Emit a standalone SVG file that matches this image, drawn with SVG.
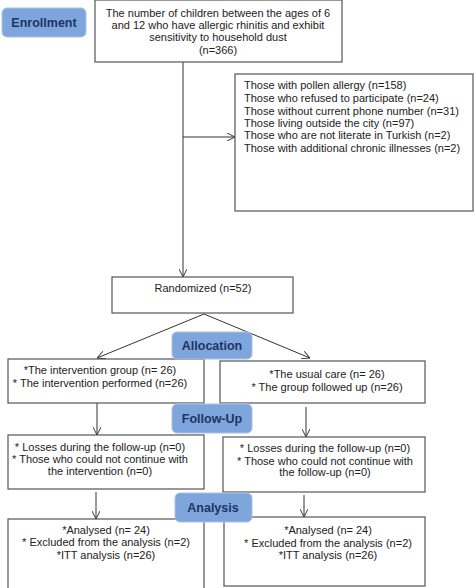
<svg xmlns="http://www.w3.org/2000/svg" width="474" height="588" viewBox="0 0 474 588">
<defs>
<marker id="arr" viewBox="0 0 10 10" refX="10" refY="5" markerWidth="8" markerHeight="8" markerUnits="userSpaceOnUse" orient="auto">
<path d="M0,0 L10,5 L0,10" fill="none" stroke="#333" stroke-width="1.2"/>
</marker>
</defs>
<style>
.box{fill:#fff;stroke:#555;stroke-width:1.2}
.pill{fill:#7fa6dc;stroke:#a9c2e6;stroke-width:1}
.t{font-family:"Liberation Sans",Arial,sans-serif;font-size:11px;fill:#222}
.c{text-anchor:middle}
.p{font-family:"Liberation Sans",Arial,sans-serif;font-size:12.5px;font-weight:bold;fill:#1d3466;text-anchor:middle}
.ln{stroke:#333;stroke-width:1;fill:none}
</style>
<rect width="474" height="588" fill="#fff"/>
<g id="connectors">
<line class="ln" x1="183" y1="62" x2="183" y2="277" marker-end="url(#arr)"/>
<line class="ln" x1="183" y1="137" x2="235" y2="137" marker-end="url(#arr)"/>
<line class="ln" x1="204" y1="314" x2="97" y2="358" marker-end="url(#arr)"/>
<line class="ln" x1="204" y1="314" x2="310" y2="358" marker-end="url(#arr)"/>
<line class="ln" x1="97" y1="403" x2="97" y2="435" marker-end="url(#arr)"/>
<line class="ln" x1="306" y1="407" x2="306" y2="437" marker-end="url(#arr)"/>
<line class="ln" x1="96" y1="492" x2="96" y2="519" marker-end="url(#arr)"/>
<line class="ln" x1="304" y1="495" x2="304" y2="517" marker-end="url(#arr)"/>
</g>
<g id="enrollment">
<rect class="pill" x="2" y="8" width="84" height="29" rx="5"/>
<text class="p" x="44" y="27">Enrollment</text>
</g>
<g id="total">
<rect class="box" x="95" y="0" width="247" height="62"/>
<text class="t c" x="218" y="17">The number of children between the ages of 6</text>
<text class="t c" x="218" y="29">and 12 who have allergic rhinitis and exhibit</text>
<text class="t c" x="218" y="41">sensitivity to household dust</text>
<text class="t c" x="218" y="54">(n=366)</text>
</g>
<g id="excluded">
<rect class="box" x="235" y="74" width="238" height="137"/>
<text class="t" x="244" y="89">Those with pollen allergy (n=158)</text>
<text class="t" x="244" y="102">Those who refused to participate (n=24)</text>
<text class="t" x="244" y="115">Those without current phone number (n=31)</text>
<text class="t" x="244" y="127">Those living outside the city (n=97)</text>
<text class="t" x="244" y="139">Those who are not literate in Turkish (n=2)</text>
<text class="t" x="244" y="152">Those with additional chronic illnesses (n=2)</text>
</g>
<g id="randomized">
<rect class="box" x="112" y="277" width="181" height="36"/>
<text class="t c" x="203" y="292">Randomized (n=52)</text>
</g>
<g id="alloc-left">
<rect class="box" x="8" y="359" width="196" height="44"/>
<text class="t c" x="100" y="374">*The intervention group (n= 26)</text>
<text class="t c" x="100" y="387">* The intervention performed (n=26)</text>
</g>
<g id="alloc-right">
<rect class="box" x="220" y="361" width="205" height="42"/>
<text class="t c" x="327" y="378">*The usual care (n= 26)</text>
<text class="t c" x="327" y="391">* The group followed up (n=26)</text>
</g>
<g id="allocation">
<rect class="pill" x="172" y="332" width="80" height="27" rx="5"/>
<text class="p" x="212" y="350">Allocation</text>
</g>
<g id="follow-left">
<rect class="box" x="8" y="435" width="196" height="54"/>
<text class="t c" x="100" y="451">* Losses during the follow-up (n=0)</text>
<text class="t c" x="100" y="463">* Those who could not continue with</text>
<text class="t c" x="100" y="475">the intervention (n=0)</text>
</g>
<g id="follow-right">
<rect class="box" x="223" y="437" width="202" height="55"/>
<text class="t c" x="325" y="452">* Losses during the follow-up (n=0)</text>
<text class="t c" x="325" y="465">* Those who could not continue with</text>
<text class="t c" x="325" y="476">the follow-up (n=0)</text>
</g>
<g id="followup">
<rect class="pill" x="172" y="404" width="80" height="29" rx="5"/>
<text class="p" x="212" y="423">Follow-Up</text>
</g>
<g id="analysis-left">
<rect class="box" x="8" y="519" width="196" height="72"/>
<text class="t c" x="106" y="534">*Analysed (n= 24)</text>
<text class="t c" x="106" y="546">* Excluded from the analysis (n=2)</text>
<text class="t c" x="106" y="559">*ITT analysis (n=26)</text>
</g>
<g id="analysis-right">
<rect class="box" x="224" y="517" width="201" height="69"/>
<text class="t c" x="328" y="534">*Analysed (n= 24)</text>
<text class="t c" x="328" y="547">* Excluded from the analysis (n=2)</text>
<text class="t c" x="328" y="559">*ITT analysis (n=26)</text>
</g>
<g id="analysis">
<rect class="pill" x="175" y="493" width="77" height="29" rx="5"/>
<text class="p" x="213" y="512">Analysis</text>
</g>
</svg>
